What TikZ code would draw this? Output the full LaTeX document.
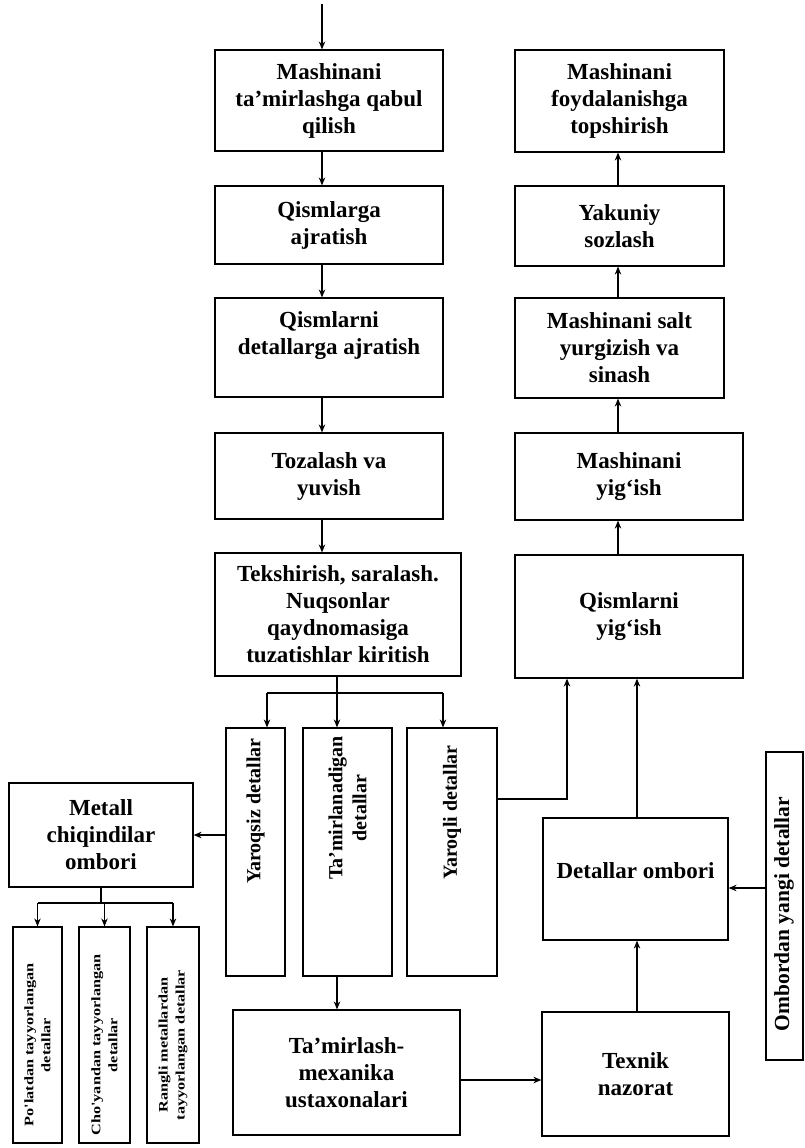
\documentclass[tikz,border=0pt]{standalone}
\usepackage{fontspec}
\setmainfont{Liberation Serif}
\newfontfamily\narrowfont[FakeStretch=1.25]{Liberation Serif}
\usetikzlibrary{arrows.meta,calc}
\begin{document}
\begin{tikzpicture}[x=1pt,y=-1pt,
  box/.style={draw, line width=1.2pt, inner sep=0pt, align=center,
    font=\bfseries\fontsize{23}{27}\selectfont},
  plain/.style={draw, line width=1.2pt, inner sep=0pt},
  txt/.style={align=center, inner sep=0pt, font=\bfseries\fontsize{23}{27}\selectfont},
  vtext/.style={rotate=90, align=center, inner sep=0pt, font=\bfseries\fontsize{20}{24}\selectfont},
  stext/.style={rotate=90, align=center, inner sep=0pt, font=\narrowfont\bfseries\fontsize{13}{17}\selectfont},
  conn/.style={line width=1.2pt},
  arr/.style={conn, -{Stealth[length=8pt,width=6.5pt]}}]
\useasboundingbox (0,0) rectangle (805,1148);
\fill[white] (0,0) rectangle (805,1148);

% left column
\node[box, minimum width=228pt, minimum height=101pt] (b1) at (329,100.5) {Mashinani\\ta'mirlashga qabul\\qilish};
\node[box, minimum width=228pt, minimum height=78pt] (b2) at (329,225) {Qismlarga\\ajratish};
\node[plain, minimum width=228pt, minimum height=99pt] (b3) at (329,347.5) {};
\node[txt] at ($(b3)+(0,-12)$) {Qismlarni\\detallarga ajratish};
\node[box, minimum width=228pt, minimum height=86pt] (b4) at (329,476) {Tozalash va\\yuvish};
\node[box, minimum width=246pt, minimum height=123pt] (b5) at (338,614.5) {Tekshirish, saralash.\\Nuqsonlar\\qaydnomasiga\\tuzatishlar kiritish};

% right column
\node[box, minimum width=209pt, minimum height=102pt] (r1) at (619.5,101) {Mashinani\\foydalanishga\\topshirish};
\node[box, minimum width=209pt, minimum height=80pt] (r2) at (619.5,226) {Yakuniy\\sozlash};
\node[box, minimum width=209pt, minimum height=100pt] (r3) at (619.5,348) {Mashinani salt\\yurgizish va\\sinash};
\node[box, minimum width=228pt, minimum height=87pt] (r4) at (629,476.5) {Mashinani\\yig‘ish};
\node[box, minimum width=228pt, minimum height=123pt] (r5) at (629,616.5) {Qismlarni\\yig‘ish};

% vertical boxes
\node[plain, minimum width=59pt, minimum height=248pt] (v1) at (255.5,852) {};
\node[vtext, anchor=east] at (255.5,738) {Yaroqsiz detallar};
\node[plain, minimum width=89pt, minimum height=248pt] (v2) at (347.5,852) {};
\node[vtext, anchor=east] at (347.5,736) {Ta'mirlanadigan\\detallar};
\node[plain, minimum width=90pt, minimum height=248pt] (v3) at (452,852) {};
\node[vtext, anchor=east] at (452,745) {Yaroqli detallar};

% scrap branch
\node[box, minimum width=184pt, minimum height=104pt] (met) at (101,835) {Metall\\chiqindilar\\ombori};
\node[plain, minimum width=49pt, minimum height=216pt] (s1) at (37.5,1035) {};
\node[stext] at (37.5,1045) {Po'latdan tayyorlangan\\detallar};
\node[plain, minimum width=51pt, minimum height=216pt] (s2) at (104.5,1035) {};
\node[stext] at (104.5,1045) {Cho'yandan tayyorlangan\\detallar};
\node[plain, minimum width=52pt, minimum height=216pt] (s3) at (173,1035) {};
\node[stext] at (173,1045) {Rangli metallardan\\tayyorlangan detallar};

% bottom
\node[box, minimum width=227pt, minimum height=125pt] (tm) at (346.5,1072.5) {Ta'mirlash-\\mexanika\\ustaxonalari};
\node[box, minimum width=187pt, minimum height=124pt] (tx) at (635.5,1074) {Texnik\\nazorat};
\node[plain, minimum width=185pt, minimum height=122pt] (do) at (635.5,879) {};
\node[txt] at ($(do)+(0,-8)$) {Detallar ombori};
\node[plain, minimum width=37pt, minimum height=308pt] (om) at (784.5,906) {};
\node[vtext, font=\bfseries\fontsize{21.5}{24}\selectfont] at (784,914) {Ombordan yangi detallar};

% connectors, left column
\coordinate (start) at (322,4);
\draw[arr] (start) -- (start |- b1.north);
\draw[arr] (b1.south -| start) -- (b2.north -| start);
\draw[arr] (b2.south -| start) -- (b3.north -| start);
\draw[arr] (b3.south -| start) -- (b4.north -| start);
\draw[arr] (b4.south -| start) -- (b5.north -| start);

% right column
\coordinate (rx) at (618,0);
\draw[arr] (r5.north -| rx) -- (r4.south -| rx);
\draw[arr] (r4.north -| rx) -- (r3.south -| rx);
\draw[arr] (r3.north -| rx) -- (r2.south -| rx);
\draw[arr] (r2.north -| rx) -- (r1.south -| rx);

% sorting bus
\coordinate (bs) at (337,693);
\coordinate (busL) at (267,693);
\coordinate (busR) at (443,693);
\draw[conn] (b5.south -| bs) -- (bs);
\draw[conn] (busL) -- (busR);
\draw[arr] (busL) -- (busL |- v1.north);
\draw[arr] (bs) -- (bs |- v2.north);
\draw[arr] (busR) -- (busR |- v3.north);

% scrap
\draw[arr] (v1.west |- met.east) -- (met.east);
\coordinate (mb) at (101,903);
\draw[conn] (met.south) -- (mb);
\draw[conn] (s1.north |- mb) -- (s3.north |- mb);
\draw[arr] (s1.north |- mb) -- (s1.north);
\draw[arr] (s2.north |- mb) -- (s2.north);
\draw[arr] (s3.north |- mb) -- (s3.north);

% repair path
\draw[arr] (v2.south -| bs) -- (tm.north -| bs);
\coordinate (ty) at (0,1080);
\draw[arr] (tm.east |- ty) -- (tx.west |- ty);
\coordinate (cx) at (637,0);
\draw[arr] (tx.north -| cx) -- (do.south -| cx);
\draw[arr] (do.north -| cx) -- (r5.south -| cx);
\coordinate (oy) at (0,888);
\draw[arr] (om.west |- oy) -- (do.east |- oy);
\coordinate (yx) at (567,799);
\draw[arr] (v3.east |- yx) -| (r5.south -| yx);
\end{tikzpicture}
\end{document}
